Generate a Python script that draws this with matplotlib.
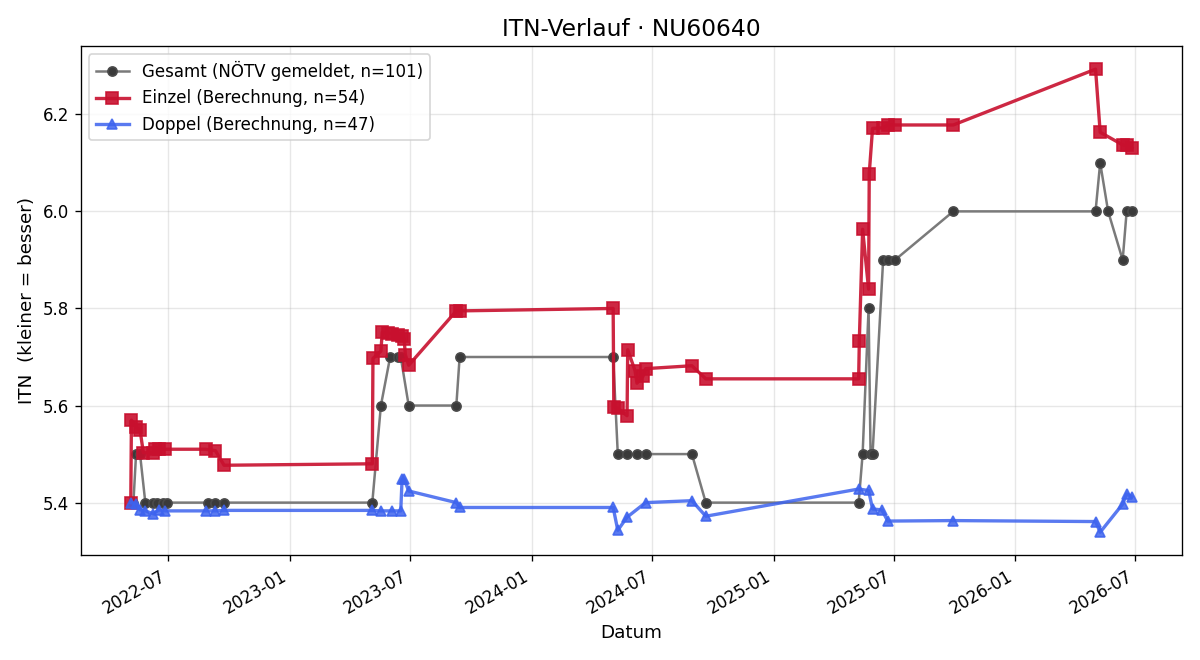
import pandas as pd
import matplotlib.pyplot as plt
import matplotlib.dates as mdates

# Gesamt (NÖTV gemeldet)
gesamt_dates = ['2022-05-09', '2022-05-13', '2022-05-19', '2022-05-27', '2022-06-07', '2022-06-14',
                '2022-06-22', '2022-06-29', '2022-08-29', '2022-09-10', '2022-09-23', '2023-05-05',
                '2023-05-18', '2023-06-01', '2023-06-13', '2023-06-17', '2023-06-29', '2023-09-09',
                '2023-09-14', '2024-05-03', '2024-05-10', '2024-05-24', '2024-06-08', '2024-06-21',
                '2024-08-30', '2024-09-20', '2025-05-09', '2025-05-15', '2025-05-24', '2025-05-27',
                '2025-05-30', '2025-06-15', '2025-06-22', '2025-07-03', '2025-09-29', '2026-05-02',
                '2026-05-09', '2026-05-21', '2026-06-12', '2026-06-18', '2026-06-26']
gesamt_itn = [5.40, 5.50, 5.50, 5.40, 5.40, 5.40,
              5.40, 5.40, 5.40, 5.40, 5.40, 5.40,
              5.60, 5.70, 5.70, 5.70, 5.60, 5.60,
              5.70, 5.70, 5.50, 5.50, 5.50, 5.50,
              5.50, 5.40, 5.40, 5.50, 5.80, 5.50,
              5.50, 5.90, 5.90, 5.90, 6.00, 6.00,
              6.10, 6.00, 5.90, 6.00, 6.00]

# Einzel (Berechnung)
einzel_dates = ['2022-05-05', '2022-05-06', '2022-05-13', '2022-05-19', '2022-05-24', '2022-06-08',
                '2022-06-10', '2022-06-16', '2022-06-26', '2022-08-26', '2022-09-10', '2022-09-23',
                '2023-05-05', '2023-05-06', '2023-05-18', '2023-05-20', '2023-05-29', '2023-06-04',
                '2023-06-13', '2023-06-19', '2023-06-22', '2023-06-24', '2023-06-29', '2023-09-09',
                '2023-09-14', '2024-05-03', '2024-05-04', '2024-05-10', '2024-05-24', '2024-05-25',
                '2024-06-05', '2024-06-08', '2024-06-17', '2024-06-21', '2024-08-30', '2024-09-20',
                '2025-05-09', '2025-05-10', '2025-05-15', '2025-05-24', '2025-05-25', '2025-05-30',
                '2025-06-15', '2025-06-22', '2025-07-03', '2025-09-29', '2026-05-02', '2026-05-09',
                '2026-06-12', '2026-06-18', '2026-06-26']
einzel_itn = [5.400, 5.570, 5.555, 5.550, 5.503, 5.503,
              5.510, 5.510, 5.510, 5.510, 5.507, 5.477,
              5.480, 5.697, 5.712, 5.751, 5.749, 5.748,
              5.746, 5.744, 5.738, 5.705, 5.683, 5.795,
              5.795, 5.800, 5.598, 5.594, 5.579, 5.715,
              5.672, 5.646, 5.660, 5.676, 5.682, 5.655,
              5.655, 5.733, 5.963, 5.840, 6.078, 6.171,
              6.172, 6.178, 6.178, 6.178, 6.293, 6.163,
              6.137, 6.136, 6.130]

# Doppel (Berechnung)
doppel_dates = ['2022-05-05', '2022-05-13', '2022-05-19', '2022-05-27', '2022-06-08', '2022-06-16',
                '2022-06-26', '2022-08-26', '2022-09-10', '2022-09-23', '2023-05-05', '2023-05-18',
                '2023-06-04', '2023-06-17', '2023-06-19', '2023-06-22', '2023-06-29', '2023-09-09',
                '2023-09-14', '2024-05-03', '2024-05-10', '2024-05-24', '2024-06-21', '2024-08-30',
                '2024-09-20', '2025-05-09', '2025-05-24', '2025-05-30', '2025-06-13', '2025-06-22',
                '2025-09-29', '2026-05-02', '2026-05-09', '2026-06-12', '2026-06-18', '2026-06-26']
doppel_itn = [5.400, 5.398, 5.385, 5.383, 5.377, 5.385,
              5.383, 5.383, 5.383, 5.384, 5.384, 5.383,
              5.383, 5.383, 5.448, 5.449, 5.424, 5.400,
              5.390, 5.390, 5.343, 5.370, 5.400, 5.404,
              5.372, 5.428, 5.425, 5.387, 5.385, 5.362,
              5.363, 5.361, 5.339, 5.397, 5.418, 5.412]

fig, ax = plt.subplots(figsize=(10, 5.5), dpi=120)

ax.plot(pd.to_datetime(gesamt_dates), gesamt_itn, marker='o', markersize=5.5, linewidth=1.5,
        color='#7a7a7a', markerfacecolor='#3a3a3a', markeredgecolor='#4a4a4a',
        label='Gesamt (NÖTV gemeldet, n=101)')
ax.plot(pd.to_datetime(einzel_dates), einzel_itn, marker='s', markersize=7, linewidth=2,
        color='#c8102e', alpha=0.9, label='Einzel (Berechnung, n=54)')
ax.plot(pd.to_datetime(doppel_dates), doppel_itn, marker='^', markersize=6.5, linewidth=2,
        color='#3d63ee', alpha=0.85, label='Doppel (Berechnung, n=47)')

ax.set_title('ITN-Verlauf · NU60640', fontsize=14)
ax.set_xlabel('Datum', fontsize=11)
ax.set_ylabel('ITN  (kleiner = besser)', fontsize=11)
ax.grid(True, alpha=0.3)
ax.xaxis.set_major_locator(mdates.MonthLocator(bymonth=[1, 7]))
ax.xaxis.set_major_formatter(mdates.DateFormatter('%Y-%m'))
ax.legend(loc='upper left')
fig.autofmt_xdate()

plt.tight_layout()
plt.savefig('out.png')
